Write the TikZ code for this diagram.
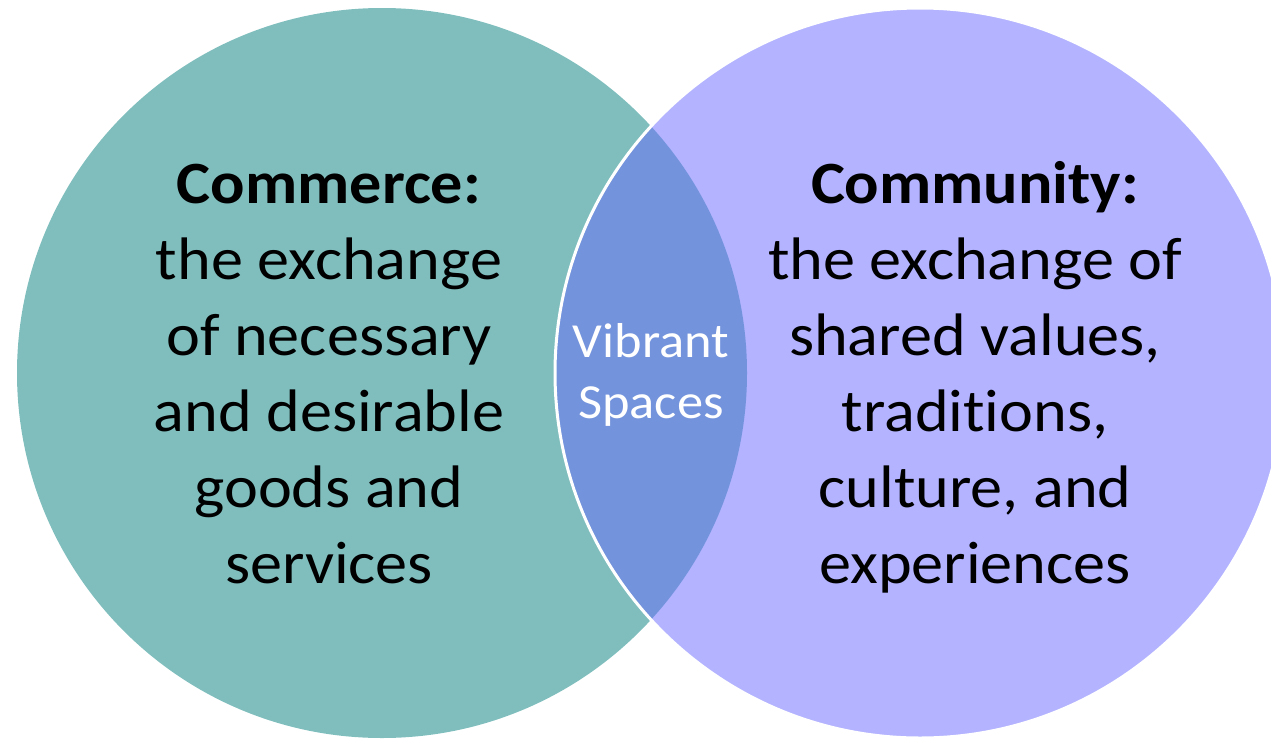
\documentclass[tikz,border=0pt]{standalone}
\usepackage{fontspec}
\setmainfont{Carlito}[Ligatures=NoCommon]
\definecolor{tealc}{HTML}{80BEBE}
\definecolor{lavc}{HTML}{B3B3FF}
\definecolor{lensc}{HTML}{7393DC}
\begin{document}
\begin{tikzpicture}[x=1pt,y=-1pt,
  bigtext/.style={align=center,font=\fontsize{60}{76}\selectfont,inner sep=0pt,anchor=base,xscale=1.07},
  smalltext/.style={align=center,font=\fontsize{49}{61}\selectfont,text=white,inner sep=0pt,anchor=base,xscale=1.07}]
\useasboundingbox (0,0) rectangle (1271,739);
\clip (0,0) rectangle (1271,739);
\fill[tealc] (382,373) circle (365);
\fill[lavc] (920,373) circle (365);
\begin{scope}
  \clip (382,373) circle (365);
  \fill[lensc] (920,373) circle (365);
\end{scope}
\draw[white,line width=3pt] (920,373) circle (365);
\node[bigtext] (commerce) at (329,583) {\textbf{Commerce:}\\the exchange\\of necessary\\and desirable\\goods and\\services};
\node[bigtext] (community) at (975,583) {\textbf{Community:}\\the exchange of\\shared values,\\traditions,\\culture, and\\experiences};
\node[smalltext] (vibrant) at (651,418) {Vibrant\\Spaces};
\end{tikzpicture}
\end{document}
